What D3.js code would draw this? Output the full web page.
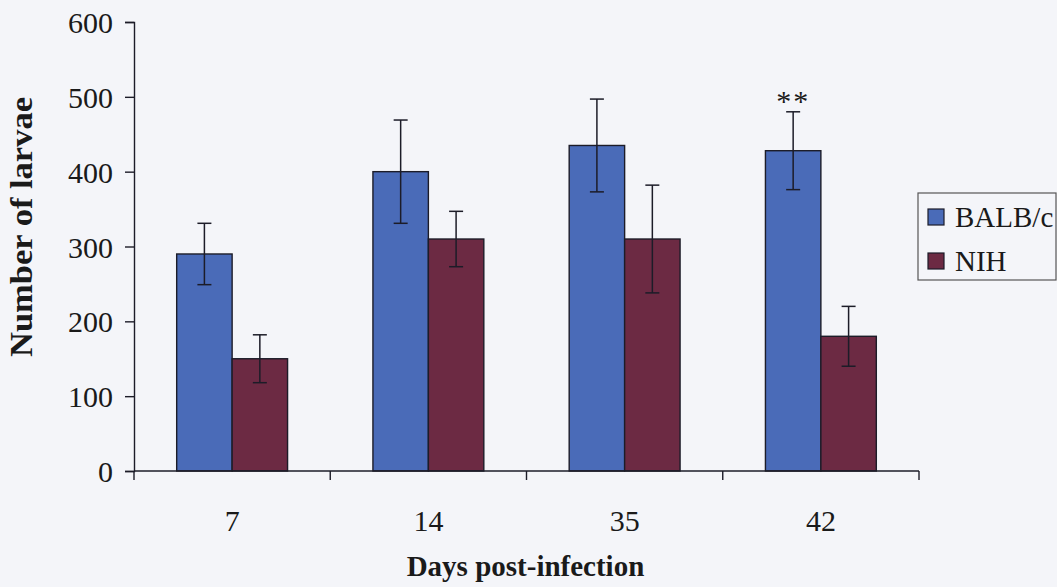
<!DOCTYPE html>
<html>
<head>
<meta charset="utf-8">
<script src="https://cdn.jsdelivr.net/npm/d3@7"></script>
<style>
  html, body { margin: 0; padding: 0; background: #f4f5f9; }
  svg { display: block; }
  text { font-family: "Liberation Serif", "Times New Roman", serif; fill: #1a1a1a; }
</style>
</head>
<body>
<svg id="chart" width="1057" height="587"></svg>
<script>
// ---- data ----
const categories = ["7", "14", "35", "42"];
const seriesNames = ["BALB/c", "NIH"];
const balbValues = [290, 400, 435, 428];
const balbErrors = [41, 69, 62, 52];
const nihValues = [150, 310, 310, 180];
const nihErrors = [32, 37, 72, 40];
const yTicks = [0, 100, 200, 300, 400, 500, 600];
const annotations = [{ category: "42", series: "BALB/c", text: "**" }];

// ---- layout ----
const W = 1057, H = 587;
const plotL = 134, plotR = 919, plotT = 22, plotB = 471;
const colors = { "BALB/c": "#4a6bb8", "NIH": "#6c2a43" };
const ink = "#1c1c28";

const svg = d3.select("#chart");
svg.append("rect").attr("width", W).attr("height", H).attr("fill", "#f4f5f9");

const rows = categories.map((c, i) => ({
  category: c,
  values: [
    { series: "BALB/c", value: balbValues[i], err: balbErrors[i] },
    { series: "NIH", value: nihValues[i], err: nihErrors[i] }
  ]
}));

const x0 = d3.scaleBand().domain(categories).range([plotL, plotR]).paddingInner(0).paddingOuter(0);
const bw = x0.bandwidth();
const x1 = d3.scaleBand().domain(seriesNames).range([bw * 0.2175, bw * 0.7825]).padding(0);
const y = d3.scaleLinear().domain([0, 600]).range([plotB, plotT]);

// bars
const groups = svg.append("g").selectAll("g").data(rows).join("g")
  .attr("transform", d => `translate(${x0(d.category)},0)`);

groups.selectAll("rect").data(d => d.values).join("rect")
  .attr("x", d => x1(d.series))
  .attr("y", d => y(d.value))
  .attr("width", x1.bandwidth())
  .attr("height", d => y(0) - y(d.value))
  .attr("fill", d => colors[d.series])
  .attr("stroke", ink)
  .attr("stroke-width", 1.4);

// error bars
const capHalf = 7;
const eb = groups.selectAll("g.err").data(d => d.values).join("g").attr("class", "err")
  .attr("transform", d => `translate(${x1(d.series) + x1.bandwidth() / 2},0)`)
  .attr("stroke", ink).attr("stroke-width", 1.5);
eb.append("line").attr("x1", 0).attr("x2", 0)
  .attr("y1", d => y(d.value + d.err)).attr("y2", d => y(d.value - d.err));
eb.append("line").attr("x1", -capHalf).attr("x2", capHalf)
  .attr("y1", d => y(d.value + d.err)).attr("y2", d => y(d.value + d.err));
eb.append("line").attr("x1", -capHalf).attr("x2", capHalf)
  .attr("y1", d => y(d.value - d.err)).attr("y2", d => y(d.value - d.err));

// annotations
annotations.forEach(a => {
  const row = rows.find(r => r.category === a.category);
  const v = row.values.find(s => s.series === a.series);
  svg.append("text")
    .attr("x", x0(a.category) + x1(a.series) + x1.bandwidth() / 2)
    .attr("y", y(v.value + v.err) - 1)
    .attr("text-anchor", "middle")
    .attr("font-size", 30)
    .attr("letter-spacing", 2)
    .text(a.text);
});

// y axis
const yAxis = d3.axisLeft(y).tickValues(yTicks).tickSize(9).tickPadding(12).tickSizeOuter(9);
const gy = svg.append("g").attr("transform", `translate(${plotL},0)`).call(yAxis);
gy.selectAll("text").attr("font-size", 30).attr("fill", "#1a1a1a").attr("dy", "0.35em")
  .attr("font-family", "Liberation Serif");
gy.selectAll("line, path").attr("stroke", ink).attr("stroke-width", 1.4);

// x axis
const xAxis = d3.axisBottom(x0).tickSize(0).tickPadding(39);
const gx = svg.append("g").attr("transform", `translate(0,${plotB})`).call(xAxis);
gx.select("path").attr("d", `M${plotL},0H${plotR}`);
gx.selectAll("text").attr("font-size", 30).attr("fill", "#1a1a1a").attr("font-family", "Liberation Serif");
gx.selectAll("path").attr("stroke", ink).attr("stroke-width", 1.4);
// category boundary ticks
const bounds = categories.map(c => x0(c)).concat([x0(categories[categories.length - 1]) + bw]);
gx.selectAll("line.bt").data(bounds).join("line").attr("class", "bt")
  .attr("x1", d => d).attr("x2", d => d).attr("y1", 0).attr("y2", 9)
  .attr("stroke", ink).attr("stroke-width", 1.4);

// axis titles
svg.append("text")
  .attr("transform", `translate(32,227) rotate(-90)`)
  .attr("text-anchor", "middle")
  .attr("font-size", 31).attr("font-weight", "bold")
  .attr("textLength", 260).attr("lengthAdjust", "spacingAndGlyphs")
  .text("Number of larvae");
svg.append("text")
  .attr("x", (plotL + plotR) / 2 - 1).attr("y", 576)
  .attr("text-anchor", "middle")
  .attr("font-size", 29).attr("font-weight", "bold")
  .text("Days post-infection");

// legend
const lg = svg.append("g").attr("transform", "translate(918,193)");
lg.append("rect").attr("width", 138).attr("height", 87)
  .attr("fill", "#f4f5f9").attr("stroke", "#555").attr("stroke-width", 1.2);
const li = lg.selectAll("g.li").data(seriesNames).join("g").attr("class", "li")
  .attr("transform", (d, i) => `translate(10,${16 + i * 44})`);
li.append("rect").attr("width", 16).attr("height", 16)
  .attr("fill", d => colors[d]).attr("stroke", ink).attr("stroke-width", 1.2);
li.append("text").attr("x", 27).attr("y", 8).attr("dy", "0.35em")
  .attr("font-size", 29).text(d => d);
</script>
</body>
</html>
